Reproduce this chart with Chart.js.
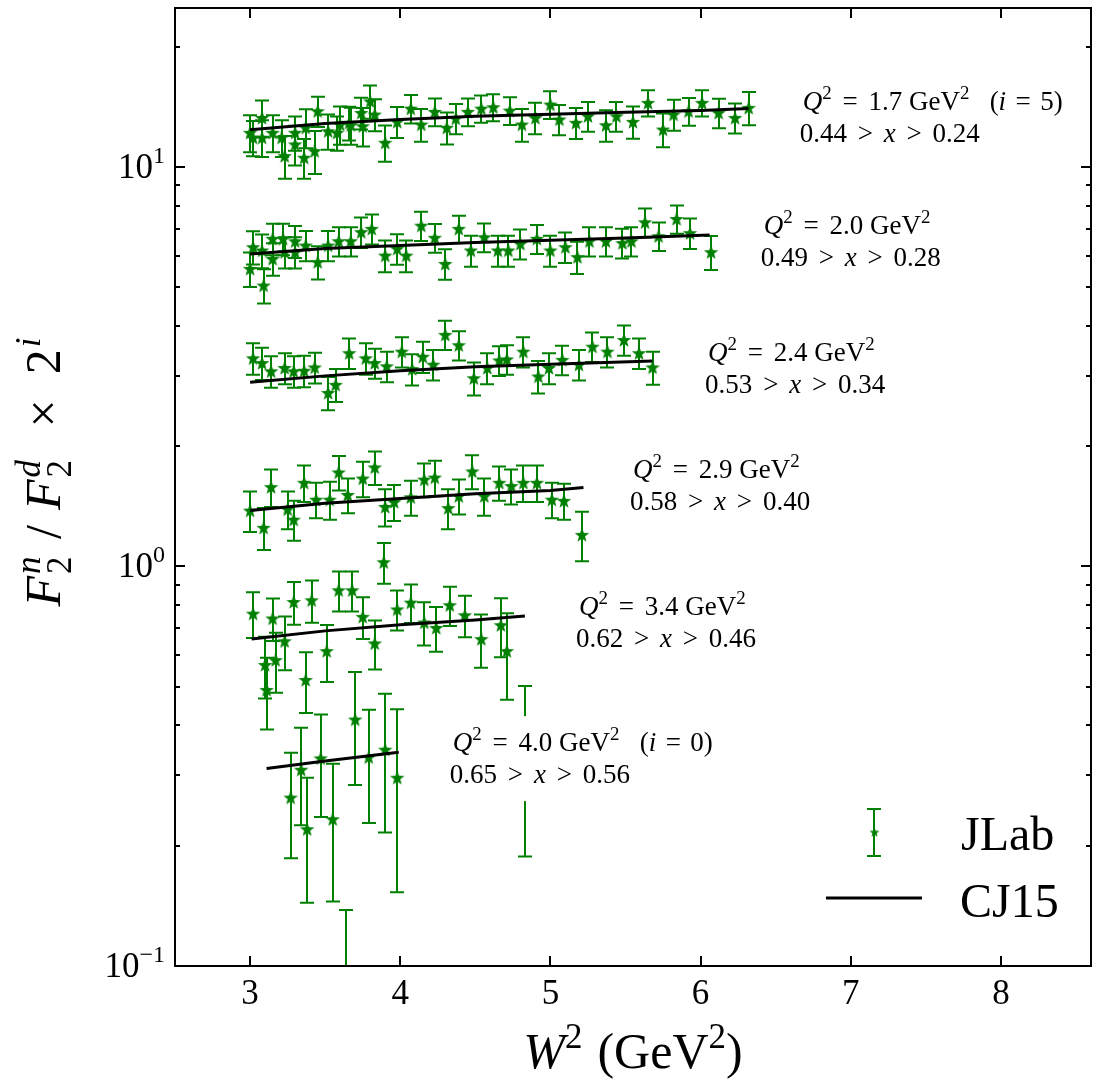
<!DOCTYPE html>
<html>
<head>
<meta charset="utf-8">
<script src="https://cdn.jsdelivr.net/npm/chart.js@4.4.1/dist/chart.umd.min.js"></script>
<style>
html, body { margin: 0; padding: 0; background: #fff; }
canvas { display: block; }
</style>
</head>
<body>
<canvas id="chart" width="1099" height="1084" style="width:1099px;height:1084px"></canvas>
<script>
// Q2 = 1.7 GeV2 (i = 5)
const W2_17 = [3.00, 3.02, 3.08, 3.08, 3.15, 3.21, 3.23, 3.30, 3.30, 3.36, 3.37, 3.43, 3.45, 3.52, 3.58, 3.60, 3.66, 3.67, 3.74, 3.75, 3.80, 3.83, 3.90, 3.98, 4.07, 4.14, 4.23, 4.31, 4.37, 4.45, 4.54, 4.62, 4.73, 4.81, 4.90, 5.00, 5.06, 5.17, 5.25, 5.37, 5.44, 5.55, 5.65, 5.75, 5.82, 5.92, 6.01, 6.12, 6.23, 6.32];
const F_17 = [12.18, 11.84, 13.27, 11.84, 12.18, 11.84, 10.65, 12.18, 11.39, 10.55, 12.54, 10.96, 13.79, 12.29, 12.18, 12.77, 12.90, 12.72, 13.66, 12.65, 14.60, 13.53, 11.50, 12.97, 14.00, 12.77, 13.74, 12.54, 13.22, 13.74, 14.00, 14.11, 13.84, 12.77, 13.27, 14.33, 13.15, 12.90, 13.40, 12.72, 13.40, 12.97, 14.47, 12.41, 13.53, 13.79, 14.47, 13.66, 13.27, 14.06];
const E_17 = [1.30, 1.20, 1.40, 1.25, 1.30, 1.25, 1.30, 1.20, 1.30, 1.20, 1.40, 1.35, 1.20, 1.25, 1.20, 1.40, 1.25, 1.35, 1.25, 1.40, 1.40, 1.25, 1.20, 1.15, 1.15, 1.20, 1.10, 1.15, 1.15, 1.10, 1.10, 1.10, 1.10, 1.20, 1.20, 1.15, 1.15, 1.15, 1.15, 1.15, 1.15, 1.20, 1.10, 1.20, 1.20, 1.10, 1.10, 1.15, 1.15, 1.35];

// Q2 = 2.0 GeV2 (i = 4)
const W2_20 = [3.00, 3.02, 3.08, 3.09, 3.15, 3.15, 3.22, 3.23, 3.30, 3.30, 3.37, 3.45, 3.52, 3.59, 3.67, 3.74, 3.81, 3.90, 3.98, 4.04, 4.14, 4.23, 4.30, 4.39, 4.47, 4.56, 4.65, 4.72, 4.80, 4.91, 5.00, 5.10, 5.18, 5.26, 5.37, 5.48, 5.54, 5.63, 5.72, 5.84, 5.93, 6.07];
const F_20 = [5.56, 6.30, 6.18, 5.05, 5.89, 6.61, 6.61, 6.12, 6.12, 6.52, 6.36, 5.78, 6.36, 6.52, 6.52, 6.87, 7.00, 6.00, 6.24, 6.00, 7.13, 6.65, 5.72, 7.00, 6.18, 6.67, 6.18, 6.18, 6.42, 6.61, 6.18, 6.30, 5.95, 6.52, 6.52, 6.45, 6.52, 7.27, 6.71, 7.41, 6.83, 6.12];
const E_20 = [0.55, 0.60, 0.60, 0.50, 0.55, 0.60, 0.60, 0.55, 0.55, 0.60, 0.55, 0.55, 0.55, 0.55, 0.55, 0.60, 0.60, 0.55, 0.55, 0.55, 0.60, 0.55, 0.50, 0.55, 0.55, 0.55, 0.55, 0.55, 0.55, 0.55, 0.55, 0.55, 0.55, 0.55, 0.55, 0.55, 0.55, 0.60, 0.55, 0.60, 0.60, 0.60];

// Q2 = 2.4 GeV2 (i = 3)
const W2_24 = [3.02, 3.08, 3.14, 3.23, 3.29, 3.36, 3.43, 3.52, 3.57, 3.66, 3.77, 3.83, 3.91, 4.01, 4.08, 4.15, 4.22, 4.30, 4.39, 4.49, 4.58, 4.66, 4.71, 4.82, 4.92, 4.99, 5.08, 5.19, 5.28, 5.38, 5.49, 5.59, 5.68];
const F_24 = [3.32, 3.23, 3.08, 3.14, 3.08, 3.09, 3.15, 2.72, 2.85, 3.42, 3.32, 3.23, 3.17, 3.45, 3.12, 3.35, 3.20, 3.80, 3.58, 2.96, 3.14, 3.28, 3.30, 3.45, 2.99, 3.14, 3.29, 3.20, 3.55, 3.45, 3.69, 3.42, 3.15];
const E_24 = [0.30, 0.30, 0.28, 0.28, 0.28, 0.28, 0.28, 0.26, 0.27, 0.30, 0.30, 0.28, 0.28, 0.30, 0.28, 0.30, 0.28, 0.32, 0.30, 0.28, 0.28, 0.28, 0.28, 0.30, 0.28, 0.28, 0.28, 0.28, 0.30, 0.30, 0.32, 0.30, 0.30];

// Q2 = 2.9 GeV2 (i = 2)
const W2_29 = [3.00, 3.09, 3.14, 3.25, 3.29, 3.36, 3.44, 3.53, 3.59, 3.65, 3.75, 3.83, 3.90, 3.96, 4.07, 4.16, 4.23, 4.32, 4.39, 4.48, 4.56, 4.66, 4.74, 4.82, 4.91, 5.01, 5.09, 5.21];
const F_29 = [1.38, 1.25, 1.58, 1.39, 1.31, 1.62, 1.47, 1.47, 1.72, 1.51, 1.66, 1.77, 1.41, 1.45, 1.49, 1.65, 1.67, 1.40, 1.50, 1.73, 1.50, 1.62, 1.59, 1.62, 1.62, 1.47, 1.46, 1.20];
const E_29 = [0.16, 0.15, 0.17, 0.15, 0.15, 0.17, 0.15, 0.16, 0.17, 0.15, 0.17, 0.17, 0.15, 0.15, 0.15, 0.16, 0.17, 0.16, 0.15, 0.17, 0.16, 0.16, 0.16, 0.17, 0.17, 0.15, 0.15, 0.17];

// Q2 = 3.4 GeV2 (i = 1)
const W2_34 = [3.02, 3.10, 3.11, 3.15, 3.17, 3.23, 3.29, 3.37, 3.41, 3.51, 3.59, 3.68, 3.75, 3.83, 3.89, 3.98, 4.07, 4.16, 4.24, 4.33, 4.43, 4.54, 4.67, 4.71, 4.83];
const F_34 = [0.762, 0.567, 0.491, 0.741, 0.583, 0.650, 0.815, 0.520, 0.823, 0.614, 0.872, 0.872, 0.748, 0.642, 1.025, 0.781, 0.812, 0.724, 0.702, 0.800, 0.755, 0.658, 0.713, 0.614, 0.345];
const E_34 = [0.10, 0.10, 0.10, 0.09, 0.10, 0.10, 0.10, 0.09, 0.10, 0.10, 0.10, 0.10, 0.09, 0.09, 0.12, 0.09, 0.09, 0.09, 0.09, 0.09, 0.09, 0.10, 0.12, 0.15, 0.157];

// Q2 = 4.0 GeV2 (i = 0)
const W2_40 = [3.27, 3.34, 3.38, 3.47, 3.55, 3.64, 3.70, 3.79, 3.90, 3.98];
const F_40 = [0.264, 0.310, 0.220, 0.331, 0.233, 0.050, 0.414, 0.333, 0.348, 0.296];
const E_40 = [0.078, 0.085, 0.076, 0.095, 0.088, 0.088, 0.130, 0.105, 0.132, 0.143];

// CJ15 curves
const CJ_W2_17 = [3.0, 3.5, 4.0, 4.5, 5.0, 5.5, 6.0, 6.32];
const CJ_17 = [12.4, 12.85, 13.15, 13.4, 13.55, 13.7, 13.85, 14.0];
const CJ_W2_20 = [3.0, 3.5, 4.0, 4.5, 5.0, 5.5, 6.06];
const CJ_20 = [6.06, 6.25, 6.36, 6.47, 6.56, 6.64, 6.76];
const CJ_W2_24 = [3.0, 3.5, 4.0, 4.5, 5.0, 5.68];
const CJ_24 = [2.89, 3.0, 3.09, 3.16, 3.21, 3.27];
const CJ_W2_29 = [3.0, 3.5, 4.0, 4.5, 5.0, 5.22];
const CJ_29 = [1.38, 1.44, 1.48, 1.52, 1.55, 1.576];
const CJ_W2_34 = [3.01, 3.5, 4.0, 4.5, 4.83];
const CJ_34 = [0.658, 0.69, 0.715, 0.735, 0.752];
const CJ_W2_40 = [3.11, 3.5, 3.99];
const CJ_40 = [0.312, 0.326, 0.343];

// labels
const Q2_VALUES = ['1.7', '2.0', '2.4', '2.9', '3.4', '4.0'];
const X_HIGH = ['0.44', '0.49', '0.53', '0.58', '0.62', '0.65'];
const X_LOW = ['0.24', '0.28', '0.34', '0.40', '0.46', '0.56'];
const I_NOTE = ['5', '', '', '', '', '0'];
const X_TICKS = [3, 4, 5, 6, 7, 8];
const Y_TICKS = [0.1, 1, 10];
const Y_TICK_EXP = ['\u22121', '0', '1'];

const GREEN = '#008000';
const FONT = '"Liberation Serif", "Times New Roman", serif';
const CAP = 7;

// anchor of each Q2 note, data coords (left, baseline of first line)
const NOTE_POS = [[6.68, 13.9], [6.42, 6.80], [6.05, 3.27], [5.55, 1.67], [5.19, 0.757], [4.35, 0.345]];

// filled 5 point star like the matplotlib '*' marker
function makeStar(r, color) {
    const s = Math.ceil(r * 2 + 2);
    const c = document.createElement('canvas');
    c.width = s; c.height = s;
    const g = c.getContext('2d');
    g.fillStyle = color;
    g.beginPath();
    for (let k = 0; k < 10; k++) {
        const rad = k % 2 ? r * 0.42 : r;
        const a = -Math.PI / 2 + k * Math.PI / 5;
        g.lineTo(s / 2 + rad * Math.cos(a), s / 2 + 0.6 + rad * Math.sin(a));
    }
    g.closePath();
    g.fill();
    return c;
}
const STAR = makeStar(7.6, GREEN);
const STAR_SMALL = makeStar(5.2, GREEN);

// rich text: parts are [text, style, hold] or a gap in em
// style: r / i roman italic, pr / pi superscript, br / bi subscript
function richText(ctx, x, y, parts, size, draw) {
    let cx = x;
    for (const p of parts) {
        if (typeof p === 'number') { cx += p * size; continue; }
        const [t, st, hold] = p;
        const small = st[0] === 'p' || st[0] === 'b';
        const fs = small ? size * 0.7 : size;
        const dy = st[0] === 'p' ? -size * 0.4 : (st[0] === 'b' ? size * 0.22 : 0);
        ctx.font = (st.endsWith('i') ? 'italic ' : '') + fs + 'px ' + FONT;
        if (draw) ctx.fillText(t, cx, y + dy);
        if (!hold) cx += ctx.measureText(t).width;
    }
    return cx - x;
}

function pairs(xs, ys) {
    return xs.map((x, k) => ({ x: x, y: ys[k] }));
}

const bands = [
    [W2_17, F_17, E_17], [W2_20, F_20, E_20], [W2_24, F_24, E_24],
    [W2_29, F_29, E_29], [W2_34, F_34, E_34], [W2_40, F_40, E_40]
];
const curves = [
    [CJ_W2_17, CJ_17], [CJ_W2_20, CJ_20], [CJ_W2_24, CJ_24],
    [CJ_W2_29, CJ_29], [CJ_W2_34, CJ_34], [CJ_W2_40, CJ_40]
];

const datasets = [];
curves.forEach(([xs, ys]) => {
    datasets.push({
        label: 'CJ15', data: pairs(xs, ys), showLine: true,
        borderColor: '#000', borderWidth: 3, pointRadius: 0, order: 0
    });
});
bands.forEach(([xs, ys, es]) => {
    datasets.push({
        label: 'JLab', data: pairs(xs, ys), err: es, showLine: false,
        pointStyle: STAR, pointRadius: 7, order: 1
    });
});

const deco = {
    id: 'deco',
    beforeDatasetsDraw(chart) {
        const { ctx, chartArea: a, scales: { y } } = chart;
        ctx.save();
        ctx.beginPath();
        ctx.rect(a.left, a.top, a.right - a.left, a.bottom - a.top);
        ctx.clip();
        ctx.strokeStyle = GREEN;
        ctx.lineWidth = 2;
        chart.data.datasets.forEach((ds, di) => {
            if (!ds.err) return;
            chart.getDatasetMeta(di).data.forEach((pt, k) => {
                const v = ds.data[k].y, e = ds.err[k];
                const top = y.getPixelForValue(v + e);
                const bot = v - e > 0 ? y.getPixelForValue(v - e) : a.bottom + 20;
                const px = Math.round(pt.x);
                ctx.beginPath();
                ctx.moveTo(px, top); ctx.lineTo(px, bot);
                ctx.moveTo(px - CAP, top); ctx.lineTo(px + CAP, top);
                ctx.moveTo(px - CAP, bot); ctx.lineTo(px + CAP, bot);
                ctx.stroke();
            });
        });
        ctx.restore();
    },
    afterDatasetsDraw(chart) {
        const { ctx, chartArea: a, scales: { x, y } } = chart;
        ctx.save();
        ctx.fillStyle = '#000';
        ctx.textBaseline = 'alphabetic';
        ctx.textAlign = 'left';

        // Q2 notes with white box
        const ns = 27;
        NOTE_POS.forEach(([nx, ny], k) => {
            const px = x.getPixelForValue(nx), py = y.getPixelForValue(ny);
            const l1 = [['Q', 'i'], ['2', 'pr'], 0.4, ['=', 'r'], 0.4, [Q2_VALUES[k], 'r'], 0.25, ['GeV', 'r'], ['2', 'pr']];
            if (I_NOTE[k]) l1.push(0.75, ['(', 'r'], ['i', 'i'], 0.35, ['=', 'r'], 0.35, [I_NOTE[k] + ')', 'r']);
            const l2 = [[X_HIGH[k], 'r'], 0.4, ['>', 'r'], 0.4, ['x', 'i'], 0.4, ['>', 'r'], 0.4, [X_LOW[k], 'r']];
            const w = Math.max(richText(ctx, 0, 0, l1, ns, false), richText(ctx, 0, 0, l2, ns, false));
            ctx.fillStyle = '#fff';
            ctx.fillRect(px - 8, py - 35, w + 16, 32 + 53);
            ctx.fillStyle = '#000';
            richText(ctx, px, py, l1, ns, true);
            richText(ctx, px - 3, py + 32, l2, ns, true);
        });

        // legend
        const lx = 874, ly = 832;
        ctx.strokeStyle = GREEN;
        ctx.lineWidth = 2;
        ctx.beginPath();
        ctx.moveTo(lx, 809); ctx.lineTo(lx, 856);
        ctx.moveTo(lx - CAP, 809); ctx.lineTo(lx + CAP, 809);
        ctx.moveTo(lx - CAP, 856); ctx.lineTo(lx + CAP, 856);
        ctx.stroke();
        ctx.drawImage(STAR_SMALL, lx - STAR_SMALL.width / 2 + 0.5, ly - STAR_SMALL.height / 2);
        ctx.strokeStyle = '#000';
        ctx.lineWidth = 3;
        ctx.beginPath();
        ctx.moveTo(826, 898); ctx.lineTo(922, 898);
        ctx.stroke();
        ctx.font = '48px ' + FONT;
        ctx.fillText('JLab', 961, 850);
        ctx.fillText('CJ15', 960, 917);

        // frame and inward ticks
        ctx.strokeStyle = '#000';
        ctx.lineWidth = 2;
        ctx.strokeRect(a.left, a.top, a.right - a.left, a.bottom - a.top);
        ctx.beginPath();
        X_TICKS.forEach(v => {
            const px = Math.round(x.getPixelForValue(v));
            ctx.moveTo(px, a.bottom); ctx.lineTo(px, a.bottom - 10);
            ctx.moveTo(px, a.top); ctx.lineTo(px, a.top + 10);
        });
        for (let dec = 0.1; dec < 30; dec *= 10) {
            for (let m = 1; m < 10; m++) {
                const v = dec * m;
                if (v < 0.1 || v > 25) continue;
                const py = Math.round(y.getPixelForValue(v));
                const len = m === 1 ? 10 : 5;
                ctx.moveTo(a.left, py); ctx.lineTo(a.left + len, py);
                ctx.moveTo(a.right, py); ctx.lineTo(a.right - len, py);
            }
        }
        ctx.stroke();

        // y tick labels 10^n
        Y_TICKS.forEach((v, k) => {
            const py = y.getPixelForValue(v);
            ctx.font = '24px ' + FONT;
            const we = ctx.measureText(Y_TICK_EXP[k]).width;
            ctx.font = '35px ' + FONT;
            const wb = ctx.measureText('10').width;
            const right = a.left - 10;
            ctx.fillText('10', right - we - wb, py + 11);
            ctx.font = '24px ' + FONT;
            ctx.fillText(Y_TICK_EXP[k], right - we, py - 4);
        });

        // axis titles
        const ts = 50;
        const xt = [['W', 'i'], ['2', 'pr'], 0.3, ['(GeV', 'r'], ['2', 'pr'], [')', 'r']];
        const xw = richText(ctx, 0, 0, xt, ts, false);
        richText(ctx, (a.left + a.right) / 2 - xw / 2, 1068, xt, ts, true);

        const yt = [['F', 'i'], 0.04, ['2', 'br', true], ['n', 'pi'], 0.35, ['/', 'r'], 0.3, ['F', 'i'], 0.04, ['2', 'br', true], ['d', 'pi'], 0.65, ['\u00d7', 'r'], 0.5, ['2', 'r'], 0.04, ['i', 'pi']];
        const yw = richText(ctx, 0, 0, yt, ts, false);
        ctx.translate(60, 472);
        ctx.rotate(-Math.PI / 2);
        richText(ctx, -yw / 2, 0, yt, ts, true);
        ctx.restore();
    }
};

new Chart(document.getElementById('chart'), {
    type: 'scatter',
    data: { datasets: datasets },
    options: {
        responsive: false,
        animation: false,
        devicePixelRatio: 1,
        layout: { padding: { top: 3, right: 2, left: 0, bottom: 0 } },
        plugins: { legend: { display: false }, tooltip: { enabled: false } },
        scales: {
            x: {
                type: 'linear', min: 2.5, max: 8.6,
                grid: { display: false, drawTicks: false },
                border: { display: false },
                afterBuildTicks: s => { s.ticks = X_TICKS.map(v => ({ value: v })); },
                afterFit: s => { s.height = 118; },
                ticks: { color: '#000', font: { family: FONT, size: 35 }, padding: 8, maxRotation: 0 }
            },
            y: {
                type: 'logarithmic', min: 0.1, max: 25,
                grid: { display: false, drawTicks: false },
                border: { display: false },
                afterBuildTicks: s => { s.ticks = Y_TICKS.map(v => ({ value: v })); },
                afterFit: s => { s.width = 175; },
                ticks: { display: false }
            }
        }
    },
    plugins: [deco]
});
</script>
</body>
</html>
